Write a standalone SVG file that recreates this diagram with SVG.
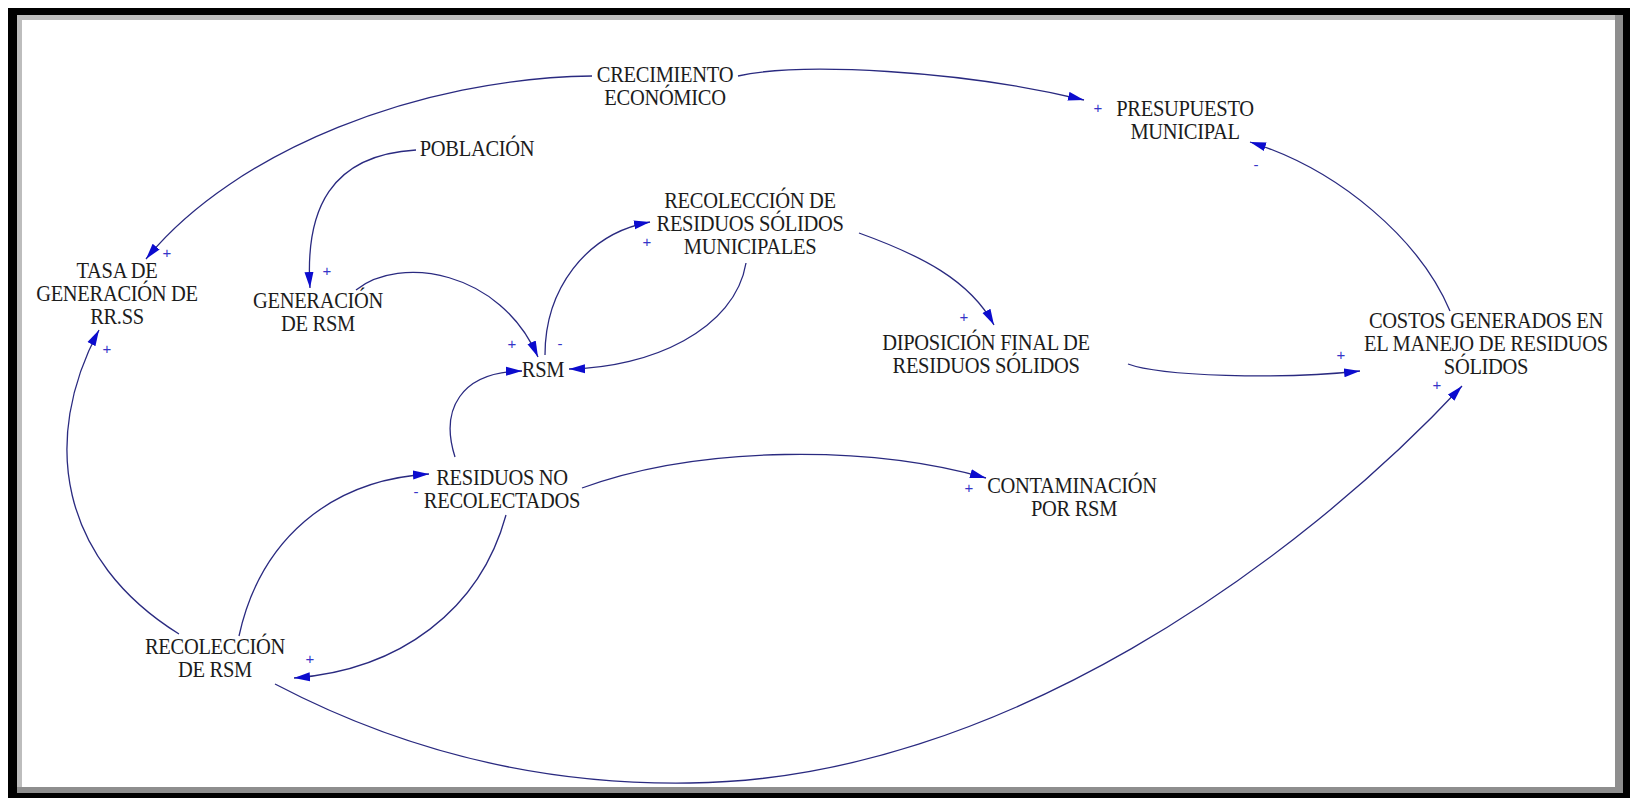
<svg xmlns="http://www.w3.org/2000/svg" width="1630" height="798" viewBox="0 0 1630 798">
<style>
.t{font-family:"Liberation Serif","Times New Roman",serif;font-size:20.5px;fill:#1c1c1c;text-anchor:middle;letter-spacing:-0.3px}
.p{font-family:"Liberation Sans",Arial,sans-serif;font-size:15px;fill:#3535c8;text-anchor:middle}
.c{fill:none;stroke:#2a2a80;stroke-width:1.3}
</style>
<defs>
<marker id="ah" markerWidth="17" markerHeight="10" refX="16" refY="5" orient="auto" markerUnits="userSpaceOnUse">
<path d="M0,0.5 L16,5 L0,9.5 Z" fill="#0c0cce"/>
</marker>
</defs>
<rect x="0" y="0" width="1630" height="798" fill="#fff"/>
<rect x="8" y="8" width="1622" height="790" fill="#000"/>
<rect x="17" y="15" width="1606" height="778" fill="#8e8e8e"/>
<rect x="17" y="15" width="1598" height="772" fill="#bdbdbd"/>
<rect x="22" y="20" width="1593" height="767" fill="#fff"/>

<g id="connectors">
<path class="c" marker-end="url(#ah)" d="M738,76 C800,62 960,70 1084,100"/>
<path class="c" marker-end="url(#ah)" d="M592,76 C420,78 235,150 146,259"/>
<path class="c" marker-end="url(#ah)" d="M416,150 C330,155 305,210 310,288"/>
<path class="c" marker-end="url(#ah)" d="M356,290 C400,255 500,270 538,357"/>
<path class="c" marker-end="url(#ah)" d="M545,355 C545,290 585,234 650,222"/>
<path class="c" marker-end="url(#ah)" d="M746,263 C735,330 650,368 569,369"/>
<path class="c" marker-end="url(#ah)" d="M859,233 C920,255 970,280 994,325"/>
<path class="c" marker-end="url(#ah)" d="M1128,364 C1160,376 1280,380 1360,371"/>
<path class="c" marker-end="url(#ah)" d="M1450,311 C1420,240 1340,170 1250,142"/>
<path class="c" marker-end="url(#ah)" d="M455,457 C440,410 460,372 522,371"/>
<path class="c" marker-end="url(#ah)" d="M582,488 C700,445 870,445 986,478"/>
<path class="c" marker-end="url(#ah)" d="M506,515 C480,610 400,670 294,678"/>
<path class="c" marker-end="url(#ah)" d="M239,636 C260,540 330,480 429,474"/>
<path class="c" marker-end="url(#ah)" d="M179,634 C60,560 40,440 99,330"/>
<path class="c" marker-end="url(#ah)" d="M275,684 C420,760 560,785 690,783 C1000,780 1300,560 1462,386"/>
</g>

<g id="polarities">
<text class="p" x="1098" y="113">+</text>
<text class="p" x="1256" y="170">-</text>
<text class="p" x="167" y="258">+</text>
<text class="p" x="107" y="354">+</text>
<text class="p" x="327" y="276">+</text>
<text class="p" x="647" y="247">+</text>
<text class="p" x="512" y="349">+</text>
<text class="p" x="560" y="349">-</text>
<text class="p" x="964" y="322">+</text>
<text class="p" x="1341" y="360">+</text>
<text class="p" x="1437" y="390">+</text>
<text class="p" x="969" y="493">+</text>
<text class="p" x="416" y="497">-</text>
<text class="p" x="310" y="664">+</text>
</g>

<g id="crecimiento"><text class="t" transform="translate(665,82) scale(1,1.1)">CRECIMIENTO</text><text class="t" transform="translate(665,105) scale(1,1.1)">ECONÓMICO</text></g>
<g id="presupuesto"><text class="t" transform="translate(1185,116) scale(1,1.1)">PRESUPUESTO</text><text class="t" transform="translate(1185,139) scale(1,1.1)">MUNICIPAL</text></g>
<g id="poblacion"><text class="t" transform="translate(477,156) scale(1,1.1)">POBLACIÓN</text></g>
<g id="recoleccion-rsm-mun"><text class="t" transform="translate(750,208) scale(1,1.1)">RECOLECCIÓN DE</text><text class="t" transform="translate(750,231) scale(1,1.1)">RESIDUOS SÓLIDOS</text><text class="t" transform="translate(750,254) scale(1,1.1)">MUNICIPALES</text></g>
<g id="tasa"><text class="t" transform="translate(117,278) scale(1,1.1)">TASA DE</text><text class="t" transform="translate(117,301) scale(1,1.1)">GENERACIÓN DE</text><text class="t" transform="translate(117,324) scale(1,1.1)">RR.SS</text></g>
<g id="generacion"><text class="t" transform="translate(318,308) scale(1,1.1)">GENERACIÓN</text><text class="t" transform="translate(318,331) scale(1,1.1)">DE RSM</text></g>
<g id="rsm"><text class="t" transform="translate(543,377) scale(1,1.1)">RSM</text></g>
<g id="disposicion"><text class="t" transform="translate(986,350) scale(1,1.1)">DIPOSICIÓN FINAL DE</text><text class="t" transform="translate(986,373) scale(1,1.1)">RESIDUOS SÓLIDOS</text></g>
<g id="costos"><text class="t" transform="translate(1486,328) scale(1,1.1)">COSTOS GENERADOS EN</text><text class="t" transform="translate(1486,351) scale(1,1.1)">EL MANEJO DE RESIDUOS</text><text class="t" transform="translate(1486,374) scale(1,1.1)">SÓLIDOS</text></g>
<g id="residuos-no"><text class="t" transform="translate(502,485) scale(1,1.1)">RESIDUOS NO</text><text class="t" transform="translate(502,508) scale(1,1.1)">RECOLECTADOS</text></g>
<g id="contaminacion"><text class="t" transform="translate(1072,493) scale(1,1.1)">CONTAMINACIÓN</text><text class="t" transform="translate(1074,516) scale(1,1.1)">POR RSM</text></g>
<g id="recoleccion-rsm"><text class="t" transform="translate(215,654) scale(1,1.1)">RECOLECCIÓN</text><text class="t" transform="translate(215,677) scale(1,1.1)">DE RSM</text></g>
</svg>
